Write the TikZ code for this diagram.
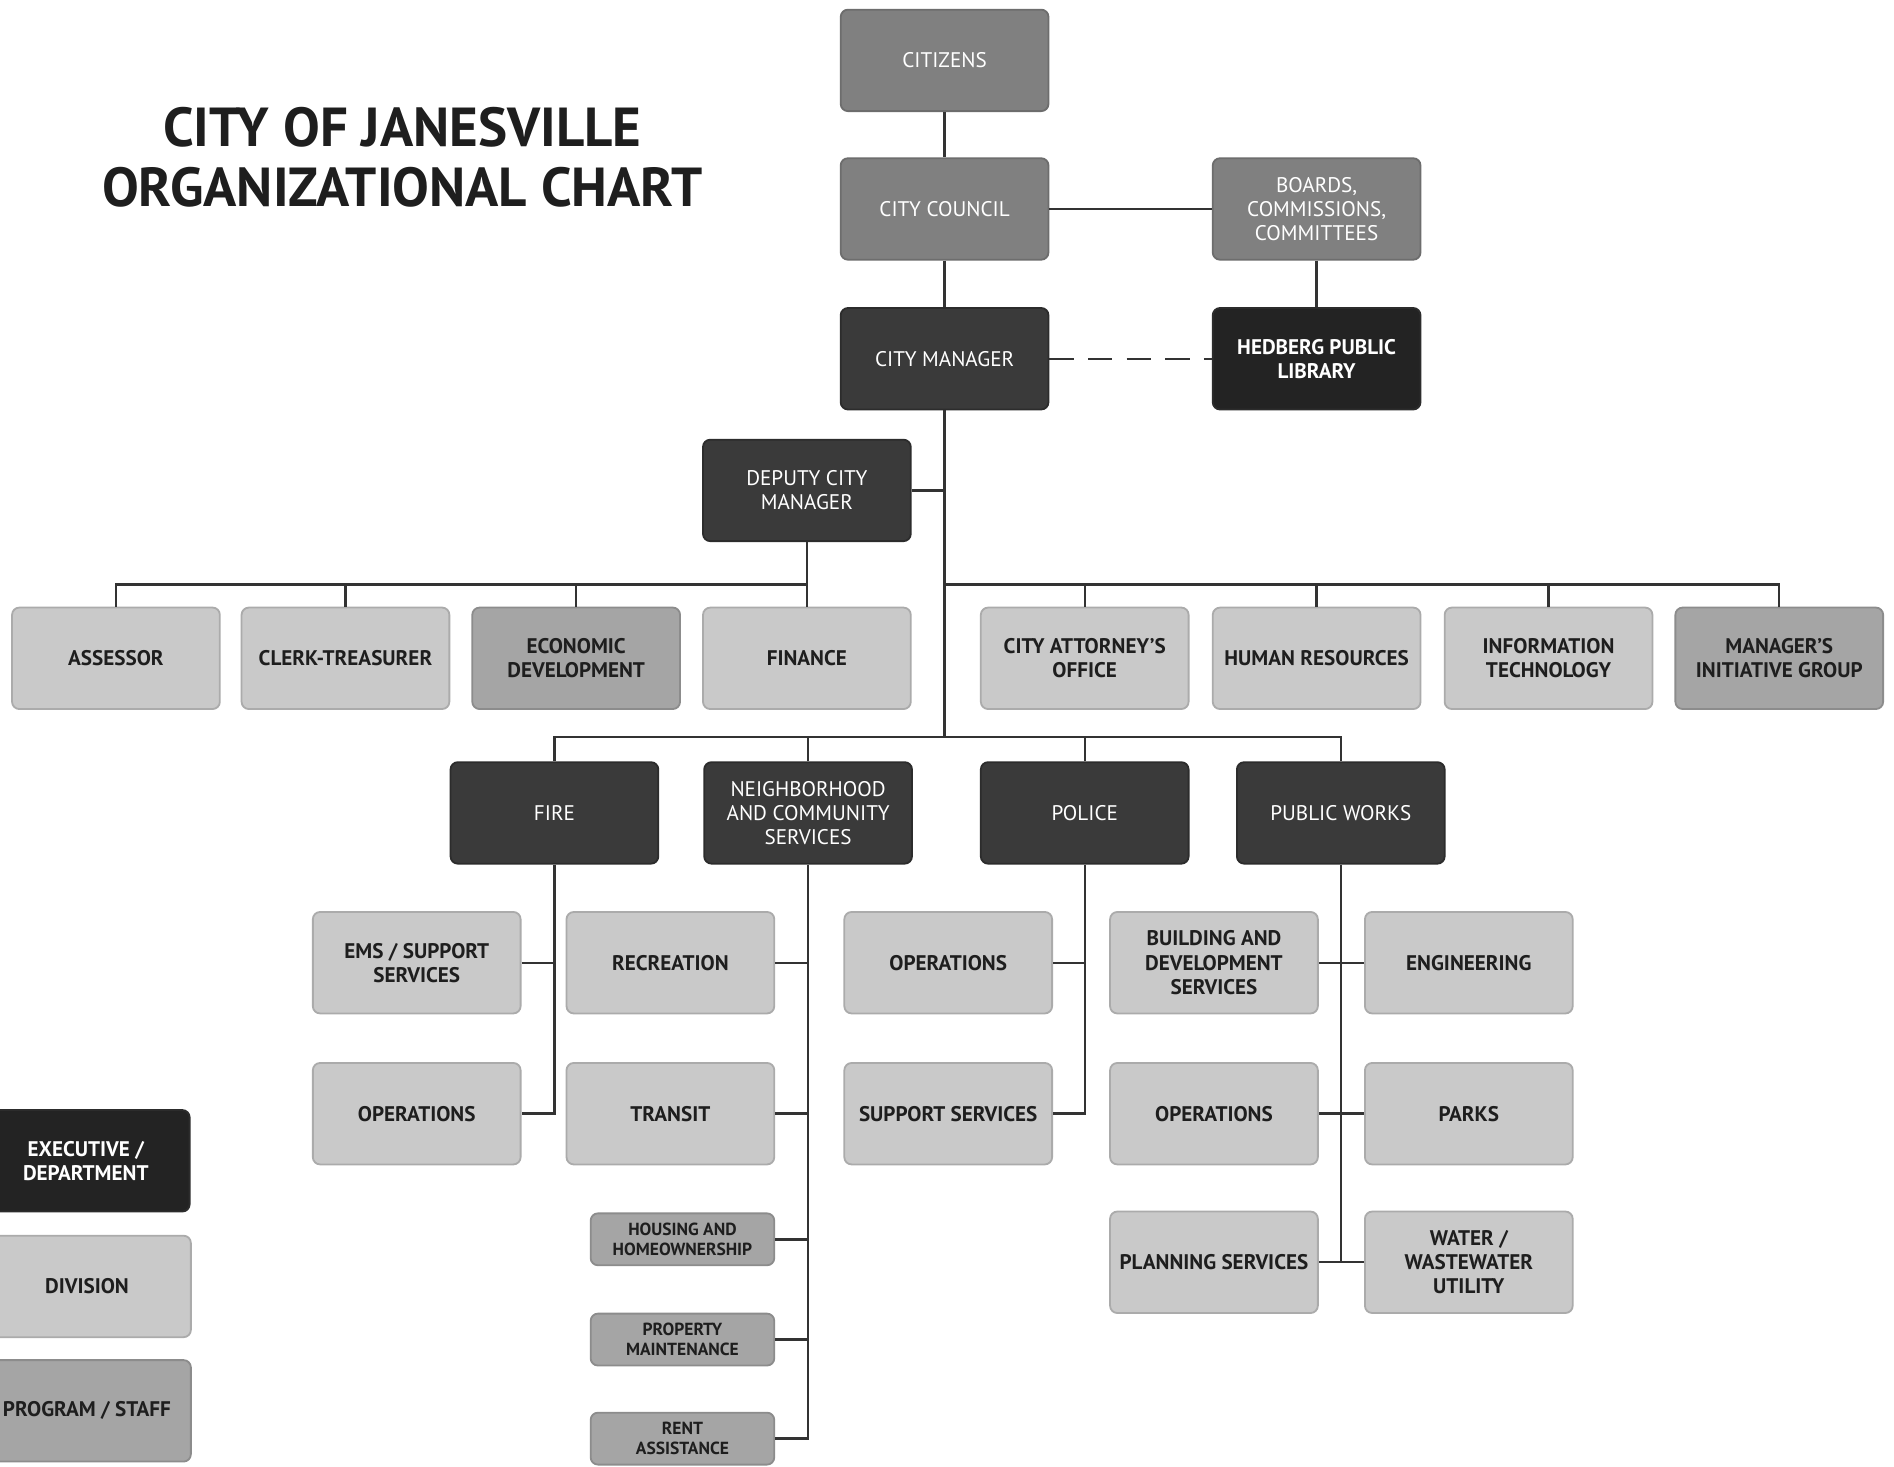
\documentclass[tikz,border=0pt]{standalone}
\usepackage{fontspec}
\setmainfont{PT Sans}
\definecolor{execc}{HTML}{3A3A3A}
\definecolor{execdark}{HTML}{232323}
\definecolor{govc}{HTML}{808080}
\definecolor{divc}{HTML}{C9C9C9}
\definecolor{progc}{HTML}{A5A5A5}
\definecolor{connc}{HTML}{333333}
\definecolor{txtc}{HTML}{1E1E1E}
\begin{document}
\begin{tikzpicture}[x=1pt,y=-1pt,
  orgbox/.style={rounded corners=6pt, minimum width=172pt, minimum height=84pt, inner sep=2pt, align=center, line width=1.5pt, font=\fontsize{17.5}{20}\selectfont},
  execbox/.style={orgbox, fill=execc, draw=execc!75!black, text=white},
  govbox/.style={orgbox, fill=govc, draw=govc!85!black, text=white},
  divbox/.style={orgbox, fill=divc, draw=divc!85!black, text=txtc, font=\bfseries\fontsize{17.5}{20}\selectfont},
  progbox/.style={orgbox, fill=progc, draw=progc!85!black, text=txtc, font=\bfseries\fontsize{17.5}{20}\selectfont},
  smallprog/.style={progbox, minimum width=152pt, minimum height=43pt, font=\bfseries\fontsize{14.5}{17}\selectfont},
  conn/.style={draw=connc, line width=2pt}
]
\useasboundingbox (0,0) rectangle (1568,1214);
\fill[white] (0,0) rectangle (1568,1214);
\clip (0,0) rectangle (1568,1214);

% title
\node[font=\bfseries\fontsize{45.5}{50}\selectfont, text=txtc, align=center] (title) at (333,130) {CITY OF JANESVILLE\\ORGANIZATIONAL CHART};

% top
\node[govbox] (citizens) at (782,50) {CITIZENS};
\node[govbox] (council) at (782,173) {CITY COUNCIL};
\node[govbox] (boards) at (1090,173) {BOARDS,\\COMMISSIONS,\\COMMITTEES};
\node[execbox] (manager) at (782,297) {CITY MANAGER};
\node[execbox, fill=execdark, font=\bfseries\fontsize{17.5}{20}\selectfont] (library) at (1090,297) {HEDBERG PUBLIC\\LIBRARY};
\node[execbox] (deputy) at (668,406) {DEPUTY CITY\\MANAGER};

% level 2
\node[divbox] (assessor) at (96,545) {ASSESSOR};
\node[divbox] (clerk) at (286,545) {CLERK-TREASURER};
\node[progbox] (econ) at (477,545) {ECONOMIC\\DEVELOPMENT};
\node[divbox] (finance) at (668,545) {FINANCE};
\node[divbox] (attorney) at (898,545) {CITY ATTORNEY'S\\OFFICE};
\node[divbox] (hr) at (1090,545) {HUMAN RESOURCES};
\node[divbox] (it) at (1282,545) {INFORMATION\\TECHNOLOGY};
\node[progbox] (mig) at (1473,545) {MANAGER'S\\INITIATIVE GROUP};

% level 3
\node[execbox] (fire) at (459,673) {FIRE};
\node[execbox] (ncs) at (669,673) {NEIGHBORHOOD\\AND COMMUNITY\\SERVICES};
\node[execbox] (police) at (898,673) {POLICE};
\node[execbox] (pw) at (1110,673) {PUBLIC WORKS};

% level 4
\node[divbox] (ems) at (345,797) {EMS / SUPPORT\\SERVICES};
\node[divbox] (fireops) at (345,922) {OPERATIONS};
\node[divbox] (rec) at (555,797) {RECREATION};
\node[divbox] (transit) at (555,922) {TRANSIT};
\node[smallprog] (housing) at (565,1026) {HOUSING AND\\HOMEOWNERSHIP};
\node[smallprog] (property) at (565,1109) {PROPERTY\\MAINTENANCE};
\node[smallprog] (rent) at (565,1191) {RENT\\ASSISTANCE};
\node[divbox] (polops) at (785,797) {OPERATIONS};
\node[divbox] (polsup) at (785,922) {SUPPORT SERVICES};
\node[divbox] (bldg) at (1005,797) {BUILDING AND\\DEVELOPMENT\\SERVICES};
\node[divbox] (pwops) at (1005,922) {OPERATIONS};
\node[divbox] (planning) at (1005,1045) {PLANNING SERVICES};
\node[divbox] (eng) at (1216,797) {ENGINEERING};
\node[divbox] (parks) at (1216,922) {PARKS};
\node[divbox] (water) at (1216,1045) {WATER /\\WASTEWATER\\UTILITY};

% legend
\node[execbox, fill=execdark, font=\bfseries\fontsize{17.5}{20}\selectfont] (legexec) at (71,961) {EXECUTIVE /\\DEPARTMENT};
\node[divbox] (legdiv) at (72,1065) {DIVISION};
\node[progbox] (legprog) at (72,1168) {PROGRAM / STAFF};

% bus levels
\coordinate (b2) at (0,484);
\coordinate (b3) at (0,610);

% connectors top
\draw[conn] (citizens) -- (council);
\draw[conn] (council) -- (manager);
\draw[conn] (council) -- (boards);
\draw[conn] (boards) -- (library);
\draw[conn, dash pattern=on 20pt off 12pt] (manager) -- (library);
\draw[conn] (manager.south) -- (manager.south |- b3);
\draw[conn] (deputy.east) -- (deputy.east -| manager.south);

% level 2 connectors
\draw[conn] (deputy.south) -- (finance.north);
\draw[conn] (assessor.north) |- (finance.north |- b2);
\draw[conn] (clerk.north) -- (clerk.north |- b2);
\draw[conn] (econ.north) -- (econ.north |- b2);
\draw[conn] (mig.north) |- (manager.south |- b2);
\draw[conn] (attorney.north) -- (attorney.north |- b2);
\draw[conn] (hr.north) -- (hr.north |- b2);
\draw[conn] (it.north) -- (it.north |- b2);

% level 3 connectors
\draw[conn] (fire.north) |- (pw.north |- b3) -- (pw.north);
\draw[conn] (ncs.north) -- (ncs.north |- b3);
\draw[conn] (police.north) -- (police.north |- b3);

% fire
\draw[conn] (fire.south) |- (fireops.east);
\draw[conn] (ems.east) -- (ems.east -| fire.south);
% ncs
\draw[conn] (ncs.south) |- (rent.east);
\draw[conn] (rec.east) -- (rec.east -| ncs.south);
\draw[conn] (transit.east) -- (transit.east -| ncs.south);
\draw[conn] (housing.east) -- (housing.east -| ncs.south);
\draw[conn] (property.east) -- (property.east -| ncs.south);
% police
\draw[conn] (police.south) |- (polsup.east);
\draw[conn] (polops.east) -- (polops.east -| police.south);
% public works
\draw[conn] (pw.south) -- (pw.south |- planning.east);
\draw[conn] (bldg.east) -- (eng.west);
\draw[conn] (pwops.east) -- (parks.west);
\draw[conn] (planning.east) -- (water.west);
\end{tikzpicture}
\end{document}
